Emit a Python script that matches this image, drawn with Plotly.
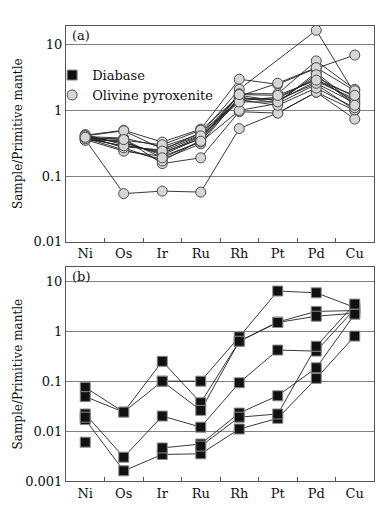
import plotly.graph_objects as go

elements = ["Ni", "Os", "Ir", "Ru", "Rh", "Pt", "Pd", "Cu"]

# Panel (a): Olivine pyroxenite samples
olivine = [
    [0.36, 0.054, 0.059, 0.057, 0.53, 0.92, 1.9, 1.0],
    [0.42, 0.50, 0.33, 0.52, 3.0, 2.5, 4.4, 7.0],
    [0.40, 0.38, 0.28, 0.44, 2.1, None, 16.7, 1.8],
    [0.43, 0.30, 0.23, 0.37, 1.8, 1.8, 5.7, 2.1],
    [0.38, 0.25, 0.18, 0.31, 1.6, 1.3, 3.8, 1.25],
    [0.37, 0.37, 0.155, 0.19, 0.96, 0.91, 1.9, 0.74],
    [0.41, 0.49, 0.26, 0.42, 1.7, 1.4, 2.8, 1.5],
    [0.36, 0.24, 0.20, 0.33, 1.0, 1.28, 2.5, 1.02],
    [0.40, 0.32, 0.22, 0.40, 1.5, 1.5, 3.2, 1.6],
    [0.39, 0.28, 0.25, 0.46, 1.4, 1.6, 3.0, 1.4],
    [0.35, 0.35, 0.30, 0.50, 1.65, 2.6, 4.5, 2.0],
    [0.41, 0.27, 0.17, 0.35, 1.45, 1.2, 2.2, 1.1],
    [0.38, 0.33, 0.21, 0.38, 1.55, 1.45, 2.6, 1.3],
    [0.37, 0.29, 0.24, 0.41, 1.35, 1.35, 3.5, 1.2],
    [0.39, 0.36, 0.19, 0.34, 1.75, 1.7, 2.9, 1.7],
]

# Panel (b): Diabase samples
diabase = [
    [0.075, 0.024, 0.25, 0.037, 0.63, 1.53, 2.5, 2.6],
    [0.049, 0.024, 0.10, 0.10, 0.77, 6.4, 5.9, 3.0],
    [None, None, 0.10, 0.026, 0.63, 1.50, 2.0, 2.3],
    [0.022, 0.0030, 0.020, 0.012, 0.093, 0.42, 0.40, 2.8],
    [0.017, 0.0016, 0.0034, 0.0035, 0.011, 0.018, 0.114, 0.80],
    [0.019, None, 0.0046, 0.0055, 0.023, 0.051, 0.185, 2.2],
    [0.006, None, None, 0.0050, 0.019, 0.022, 0.50, 3.5],
]

ytick_a = [0.01, 0.1, 1, 10]
ytick_a_text = ["0.01", "0.1", "1", "10"]
ytick_b = [0.001, 0.01, 0.1, 1, 10]
ytick_b_text = ["0.001", "0.01", "0.1", "1", "10"]

FONT = "DejaVu Serif"
LINE_COL = "#222222"

fig = go.Figure()

# lines first (so markers sit on top)
for s in olivine:
    fig.add_trace(go.Scatter(x=elements, y=s, mode="lines", connectgaps=True,
                             line=dict(color=LINE_COL, width=0.9),
                             showlegend=False, hoverinfo="skip",
                             xaxis="x", yaxis="y"))
for s in diabase:
    fig.add_trace(go.Scatter(x=elements, y=s, mode="lines", connectgaps=False,
                             line=dict(color=LINE_COL, width=0.9),
                             showlegend=False, hoverinfo="skip",
                             xaxis="x2", yaxis="y2"))

for i, s in enumerate(diabase):
    fig.add_trace(go.Scatter(x=elements, y=s, mode="markers", name="Diabase",
                             legendgroup="d", showlegend=(i == 0), legendrank=1,
                             marker=dict(symbol="square", size=10, color="#111111",
                                         line=dict(color="#8a8a8a", width=1)),
                             xaxis="x2", yaxis="y2"))
for i, s in enumerate(olivine):
    fig.add_trace(go.Scatter(x=elements, y=s, mode="markers", name="Olivine pyroxenite",
                             legendgroup="o", showlegend=(i == 0), legendrank=2,
                             marker=dict(symbol="circle", size=10, color="#d6d6d6",
                                         line=dict(color="#4a4a4a", width=1)),
                             xaxis="x", yaxis="y"))

xcommon = dict(type="category", categoryorder="array", categoryarray=elements,
               range=[-0.5, 7.5], showline=True, linecolor="#555555", linewidth=1,
               mirror=True, ticks="inside", tickson="boundaries", ticklen=4,
               tickcolor="#555555", showgrid=False, zeroline=False,
               tickfont=dict(family=FONT, size=13, color="#111111"))
ycommon = dict(type="log", showline=True, linecolor="#555555", linewidth=1, mirror=True,
               ticks="", showgrid=True, gridcolor="#808080", gridwidth=1,
               zeroline=False, tickmode="array",
               tickfont=dict(family=FONT, size=13, color="#111111"))

fig.update_layout(
    width=390, height=505,
    margin=dict(l=58, r=24, t=18, b=29),
    paper_bgcolor="white", plot_bgcolor="white",
    font=dict(family=FONT, size=13, color="#111111"),
    xaxis=dict(xcommon, domain=[0, 1], anchor="y"),
    yaxis=dict(ycommon, domain=[0.526, 1.0], anchor="x", range=[-2, 1.288],
               tickvals=ytick_a, ticktext=ytick_a_text),
    xaxis2=dict(xcommon, domain=[0, 1], anchor="y2"),
    yaxis2=dict(ycommon, domain=[0, 0.4694], anchor="x2", range=[-3, 1.279],
                tickvals=ytick_b, ticktext=ytick_b_text),
    legend=dict(x=-0.045, y=0.925, xanchor="left", yanchor="top",
                bgcolor="rgba(0,0,0,0)", borderwidth=0,
                font=dict(family=FONT, size=13, color="#111111"),
                tracegroupgap=0, itemwidth=30),
    showlegend=True,
    annotations=[
        dict(text="(a)", xref="paper", yref="paper", x=0.012, y=1.0,
             xanchor="left", yanchor="top", showarrow=False,
             font=dict(family=FONT, size=13)),
        dict(text="(b)", xref="paper", yref="paper", x=0.012, y=0.4694,
             xanchor="left", yanchor="top", showarrow=False,
             font=dict(family=FONT, size=13)),
        dict(text="Sample/Primitive mantle", xref="paper", yref="paper",
             x=-0.155, y=0.763, xanchor="center", yanchor="middle",
             textangle=-90, showarrow=False, font=dict(family=FONT, size=12)),
        dict(text="Sample/Primitive mantle", xref="paper", yref="paper",
             x=-0.155, y=0.2347, xanchor="center", yanchor="middle",
             textangle=-90, showarrow=False, font=dict(family=FONT, size=12)),
    ],
)

fig.write_html("out.html")
